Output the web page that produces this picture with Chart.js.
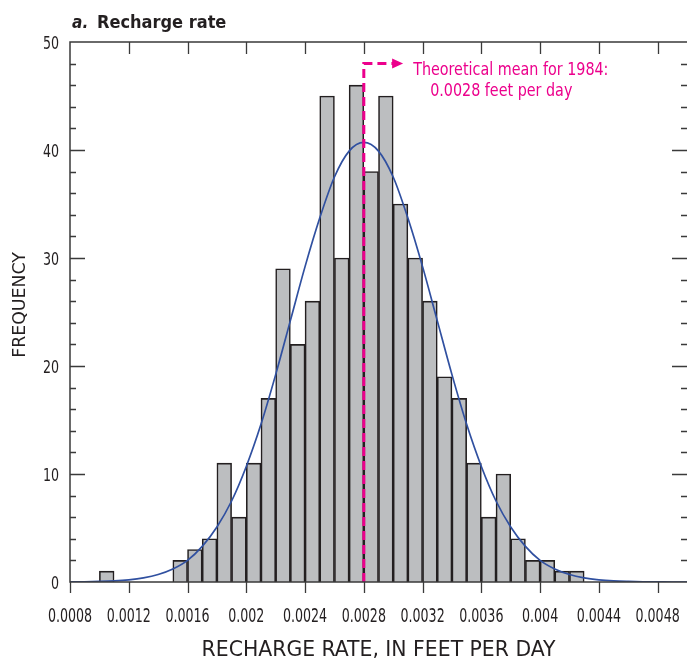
<!DOCTYPE html>
<html>
<head>
<meta charset="utf-8">
<script src="https://cdn.jsdelivr.net/npm/chart.js@4/dist/chart.umd.min.js"></script>
<style>
  html, body { margin: 0; padding: 0; background: #fff; }
  #wrap { width: 687px; height: 658px; position: relative; }
</style>
</head>
<body>
<div id="wrap"><canvas id="histo" width="687" height="658"></canvas></div>
<script>
// Data
const binStart = [0.0010, 0.0015, 0.0016, 0.0017, 0.0018, 0.0019, 0.0020, 0.0021, 0.0022, 0.0023,
                  0.0024, 0.0025, 0.0026, 0.0027, 0.0028, 0.0029, 0.0030, 0.0031, 0.0032, 0.0033,
                  0.0034, 0.0035, 0.0036, 0.0037, 0.0038, 0.0039, 0.0040, 0.0041, 0.0042];
const binCount = [1, 2, 3, 4, 11, 6, 11, 17, 29, 22,
                  26, 45, 30, 46, 38, 45, 35, 30, 26, 19,
                  17, 11, 6, 10, 4, 2, 2, 1, 1];
const binWidth = 0.0001;

// fitted curve
const curveRate = [0.0008, 0.0009, 0.0010, 0.0011, 0.0012, 0.0013, 0.0014, 0.0015, 0.0016, 0.0017,
                   0.0018, 0.0019, 0.0020, 0.0021, 0.0022, 0.0023, 0.0024, 0.0025, 0.0026, 0.0027,
                   0.0028, 0.0029, 0.0030, 0.0031, 0.0032, 0.0033, 0.0034, 0.0035, 0.0036, 0.0037,
                   0.0038, 0.0039, 0.0040, 0.0041, 0.0042, 0.0043, 0.0044, 0.0045, 0.0046, 0.0047,
                   0.0048, 0.0049, 0.0050];
const curveFreq = [0.01, 0.02, 0.05, 0.1, 0.2, 0.38, 0.69, 1.2, 2.0, 3.3,
                   5.1, 7.5, 10.7, 14.6, 19.2, 24.2, 29.2, 33.7, 37.5, 39.9,
                   40.7, 39.9, 37.5, 33.7, 29.2, 24.2, 19.2, 14.6, 10.7, 7.5,
                   5.1, 3.3, 2.0, 1.2, 0.69, 0.38, 0.2, 0.1, 0.05, 0.02,
                   0.01, 0.0, 0.0];

const xTickValues = [0.0008, 0.0012, 0.0016, 0.0020, 0.0024, 0.0028, 0.0032, 0.0036, 0.0040, 0.0044, 0.0048];
const xTickLabels = ['0.0008', '0.0012', '0.0016', '0.002', '0.0024', '0.0028', '0.0032', '0.0036', '0.004', '0.0044', '0.0048'];
const yTickValues = [0, 10, 20, 30, 40, 50];
const yTickLabels = ['0', '10', '20', '30', '40', '50'];
const yMinorStep = 2;
const meanRate = 0.0028;
const meanLabel = ['Theoretical mean for 1984:', '0.0028 feet per day'];

const FONT = "'DejaVu Sans Condensed', 'DejaVu Sans', sans-serif";
const INK = '#231f20';
const PINK = '#ec008c';

// the reference uses a condensed face; squeeze the text horizontally
function squeezeText(ctx, text, x, y, font, sx, align, color) {
    ctx.save();
    ctx.font = font;
    ctx.fillStyle = color || INK;
    ctx.textAlign = align || 'left';
    ctx.textBaseline = 'alphabetic';
    ctx.translate(x, y);
    ctx.scale(sx, 1);
    ctx.fillText(text, 0, 0);
    ctx.restore();
}

// frame, inward ticks, labels, mean marker and title
const decor = {
    id: 'decor',
    afterDatasetsDraw(chart) {
        const ctx = chart.ctx;
        const { left, right, top, bottom } = chart.chartArea;
        const xs = chart.scales.x, ys = chart.scales.y;

        // mean line with arrow
        const mx = xs.getPixelForValue(meanRate);
        const my = ys.getPixelForValue(48);
        const ax = xs.getPixelForValue(0.00302);
        ctx.save();
        ctx.strokeStyle = PINK;
        ctx.lineWidth = 3;
        ctx.setLineDash([9, 5]);
        ctx.beginPath();
        ctx.moveTo(mx, bottom);
        ctx.lineTo(mx, my);
        ctx.lineTo(ax - 2, my);
        ctx.stroke();
        ctx.setLineDash([]);
        ctx.fillStyle = PINK;
        ctx.beginPath();
        ctx.moveTo(ax - 4, my - 5);
        ctx.lineTo(ax + 7, my);
        ctx.lineTo(ax - 4, my + 5);
        ctx.closePath();
        ctx.fill();
        ctx.restore();

        squeezeText(ctx, meanLabel[0], ax + 17, my + 11, '18px ' + FONT, 0.885, 'left', PINK);
        squeezeText(ctx, meanLabel[1], ax + 34, my + 32, '18px ' + FONT, 0.885, 'left', PINK);

        // frame
        ctx.save();
        ctx.strokeStyle = '#3a3a3a';
        ctx.lineWidth = 1.5;
        ctx.beginPath();
        ctx.moveTo(right, top);
        ctx.lineTo(left, top);
        ctx.lineTo(left, bottom);
        ctx.lineTo(right, bottom);
        ctx.stroke();

        ctx.lineWidth = 1.3;
        ctx.beginPath();
        xTickValues.forEach(v => {
            const px = Math.round(xs.getPixelForValue(v)) + 0.5;
            ctx.moveTo(px, bottom);
            ctx.lineTo(px, bottom + 11);
            if (v > xs.min) {
                ctx.moveTo(px, top);
                ctx.lineTo(px, top + 12);
            }
        });
        for (let v = ys.min + yMinorStep; v < ys.max; v += yMinorStep) {
            const py = Math.round(ys.getPixelForValue(v)) + 0.5;
            const len = v % 10 === 0 ? 15 : 6;
            ctx.moveTo(left, py);
            ctx.lineTo(left + len, py);
            ctx.moveTo(right, py);
            ctx.lineTo(right - len, py);
        }
        ctx.stroke();
        ctx.restore();

        // tick labels
        xTickValues.forEach((v, i) => {
            squeezeText(ctx, xTickLabels[i], xs.getPixelForValue(v), bottom + 40, '19px ' + FONT, 0.74, 'center');
        });
        yTickValues.forEach((v, i) => {
            squeezeText(ctx, yTickLabels[i], left - 11, ys.getPixelForValue(v) + 6.5, '18px ' + FONT, 0.78, 'right');
        });

        // axis titles
        squeezeText(ctx, 'RECHARGE RATE, IN FEET PER DAY', (left + 687) / 2, 656, '21px ' + FONT, 1.08, 'center');
        ctx.save();
        ctx.translate(25, 305);
        ctx.rotate(-Math.PI / 2);
        squeezeText(ctx, 'FREQUENCY', 0, 0, '18px ' + FONT, 1.07, 'center');
        ctx.restore();

        // panel title
        squeezeText(ctx, 'a.', 72, 28, 'italic bold 18px ' + FONT, 0.95, 'left');
        squeezeText(ctx, 'Recharge rate', 97, 28, 'bold 18px ' + FONT, 1.0, 'left');
    }
};

new Chart(document.getElementById('histo'), {
    data: {
        datasets: [
            {
                type: 'line',
                data: curveRate.map((r, i) => ({ x: r, y: curveFreq[i] })),
                borderColor: '#3050a0',
                borderWidth: 1.7,
                pointRadius: 0,
                cubicInterpolationMode: 'monotone',
                order: 0
            },
            {
                type: 'bar',
                data: binStart.map((b, i) => ({ x: b + binWidth / 2, y: binCount[i] })),
                backgroundColor: '#bcbec0',
                borderColor: INK,
                borderWidth: 1.6,
                borderSkipped: 'start',
                barPercentage: 1,
                categoryPercentage: 1,
                order: 1
            }
        ]
    },
    options: {
        responsive: false,
        animation: false,
        layout: { padding: { top: 42, right: -1, left: 0, bottom: 0 } },
        plugins: { legend: { display: false }, tooltip: { enabled: false } },
        scales: {
            x: {
                type: 'linear',
                min: 0.0008,
                max: 0.005,
                offset: false,
                grid: { display: false, drawTicks: false, tickLength: 0 },
                border: { display: false },
                afterBuildTicks: s => { s.ticks = xTickValues.map(v => ({ value: v })); },
                afterFit: s => { s.height = 76; s.paddingLeft = 0; s.paddingRight = 0; },
                ticks: { display: false }
            },
            y: {
                min: 0,
                max: 50,
                grid: { display: false, drawTicks: false, tickLength: 0 },
                border: { display: false },
                afterBuildTicks: s => { s.ticks = yTickValues.map(v => ({ value: v })); },
                afterFit: s => { s.width = 70; s.paddingTop = 0; s.paddingBottom = 0; },
                ticks: { display: false }
            }
        }
    },
    plugins: [decor]
});
</script>
</body>
</html>
